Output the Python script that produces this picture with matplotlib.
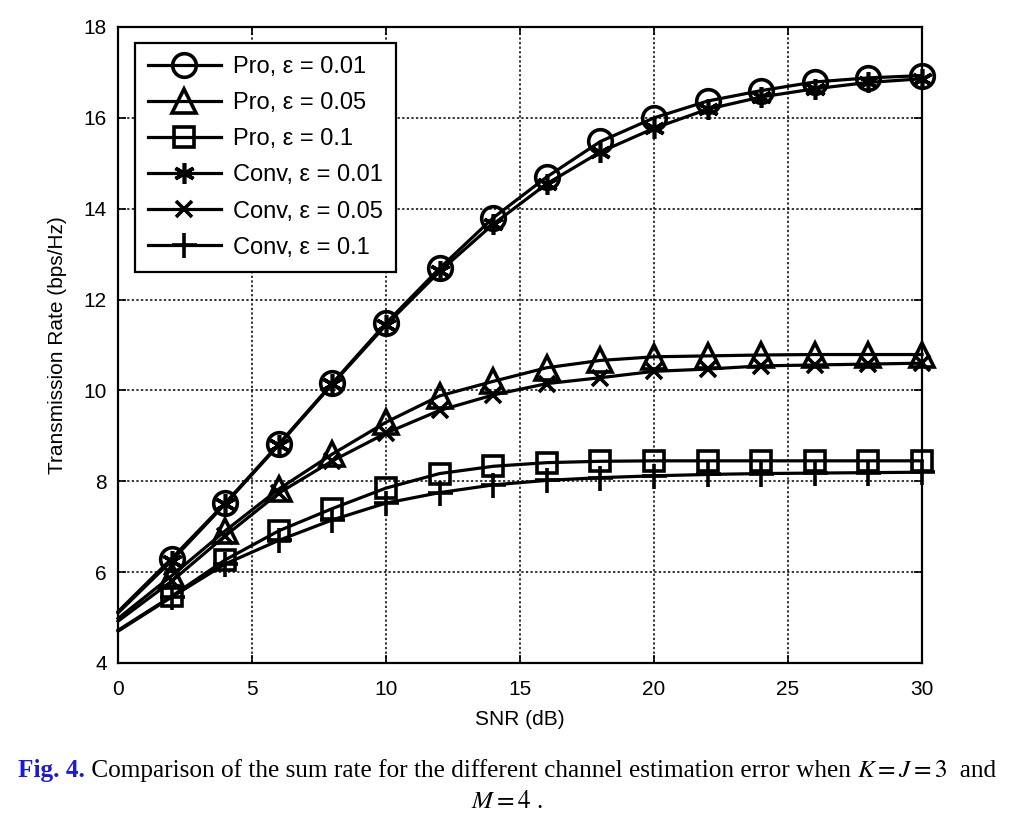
import numpy as np
import matplotlib
matplotlib.use("Agg")
import matplotlib.pyplot as plt

# donnees
snr = [0, 2, 4, 6, 8, 10, 12, 14, 16, 18, 20, 22, 24, 26, 28, 30]

pro_001 = [5.13, 6.30, 7.52, 8.82, 10.16, 11.48, 12.69, 13.80, 14.70, 15.48, 16.00, 16.37, 16.60, 16.79, 16.88, 16.93]
pro_005 = [4.98, 5.92, 6.91, 7.83, 8.60, 9.30, 9.88, 10.20, 10.50, 10.66, 10.74, 10.76, 10.78, 10.79, 10.79, 10.79]
pro_01 = [4.72, 5.47, 6.27, 6.91, 7.40, 7.85, 8.17, 8.33, 8.41, 8.44, 8.45, 8.45, 8.45, 8.45, 8.45, 8.45]
conv_001 = [5.10, 6.25, 7.50, 8.80, 10.14, 11.44, 12.62, 13.66, 14.55, 15.25, 15.77, 16.19, 16.46, 16.64, 16.78, 16.86]
conv_005 = [4.92, 5.80, 6.80, 7.74, 8.45, 9.06, 9.56, 9.90, 10.15, 10.28, 10.42, 10.47, 10.54, 10.56, 10.58, 10.60]
conv_01 = [4.70, 5.45, 6.18, 6.70, 7.15, 7.52, 7.75, 7.92, 8.02, 8.08, 8.12, 8.15, 8.17, 8.18, 8.19, 8.20]

labels = ["Pro, \u03b5 = 0.01", "Pro, \u03b5 = 0.05", "Pro, \u03b5 = 0.1",
          "Conv, \u03b5 = 0.01", "Conv, \u03b5 = 0.05", "Conv, \u03b5 = 0.1"]
series = [pro_001, pro_005, pro_01, conv_001, conv_005, conv_01]
markers = ["o", "^", "s", (6, 2, 0), "x", "+"]
msizes = [17, 17, 15, 15, 12, 18]

plt.rcParams['font.family'] = ['Liberation Sans', 'DejaVu Sans']

fig = plt.figure(figsize=(10.14, 8.18), dpi=100)
ax = fig.add_axes([0.1164, 0.1895, 0.7929, 0.7775])

for y, lab, mk, ms in zip(series, labels, markers, msizes):
    ax.plot(snr, y, color="k", lw=2.3, marker=mk, ms=ms, mfc="none",
            mec="k", mew=2.6, markevery=slice(1, None), label=lab, clip_on=False)

ax.set_xlim(0, 30)
ax.set_ylim(4, 18)
ax.set_xticks([0, 5, 10, 15, 20, 25, 30])
ax.set_yticks([4, 6, 8, 10, 12, 14, 16, 18])
ax.grid(True, color="k", ls=(0, (1.5, 1.5)), lw=1.1)
ax.tick_params(direction="in", labelsize=15, length=6, width=1.2, top=True, right=True, pad=8)
ax.tick_params(axis="x", pad=12)
for s in ax.spines.values():
    s.set_linewidth(1.6)
ax.set_xlabel("SNR (dB)", fontsize=15, labelpad=8)
ax.set_ylabel("Transmission Rate (bps/Hz)", fontsize=15, labelpad=12)

leg = ax.legend(loc="upper left", bbox_to_anchor=(0.021, 0.975), fontsize=17,
                frameon=True, fancybox=False, edgecolor="k", handlelength=3.1,
                handletextpad=0.5, labelspacing=0.6, borderpad=0.55, borderaxespad=0)
leg.get_frame().set_linewidth(1.6)
leg.get_frame().set_alpha(1)

# legende sous la figure
serif = ['Liberation Serif', 'DejaVu Serif']
plt.rcParams['mathtext.fontset'] = 'stix'
fig.canvas.draw()
r = fig.canvas.get_renderer()
parts = [("Fig. 4.", dict(color="#1a1adb", weight="bold")),
         (" Comparison of the sum rate for the different channel estimation error when ", dict(color="k")),
         ("$K = J = 3$", dict(color="k")),
         ("  and", dict(color="k"))]
texts = []
for s, kw in parts:
    t = fig.text(0, 0.05, s, fontsize=18.2, family=serif, va="baseline", **kw)
    texts.append(t)
widths = [t.get_window_extent(r).width for t in texts]
total = sum(widths)
xpos = (fig.bbox.width - total) / 2
for t, w in zip(texts, widths):
    t.set_x(xpos / fig.bbox.width)
    xpos += w
fig.text(0.5, 0.012, "$M = 4$ .", fontsize=18.2, family=serif, ha="center", va="baseline")

fig.savefig("out.png", dpi=100)
